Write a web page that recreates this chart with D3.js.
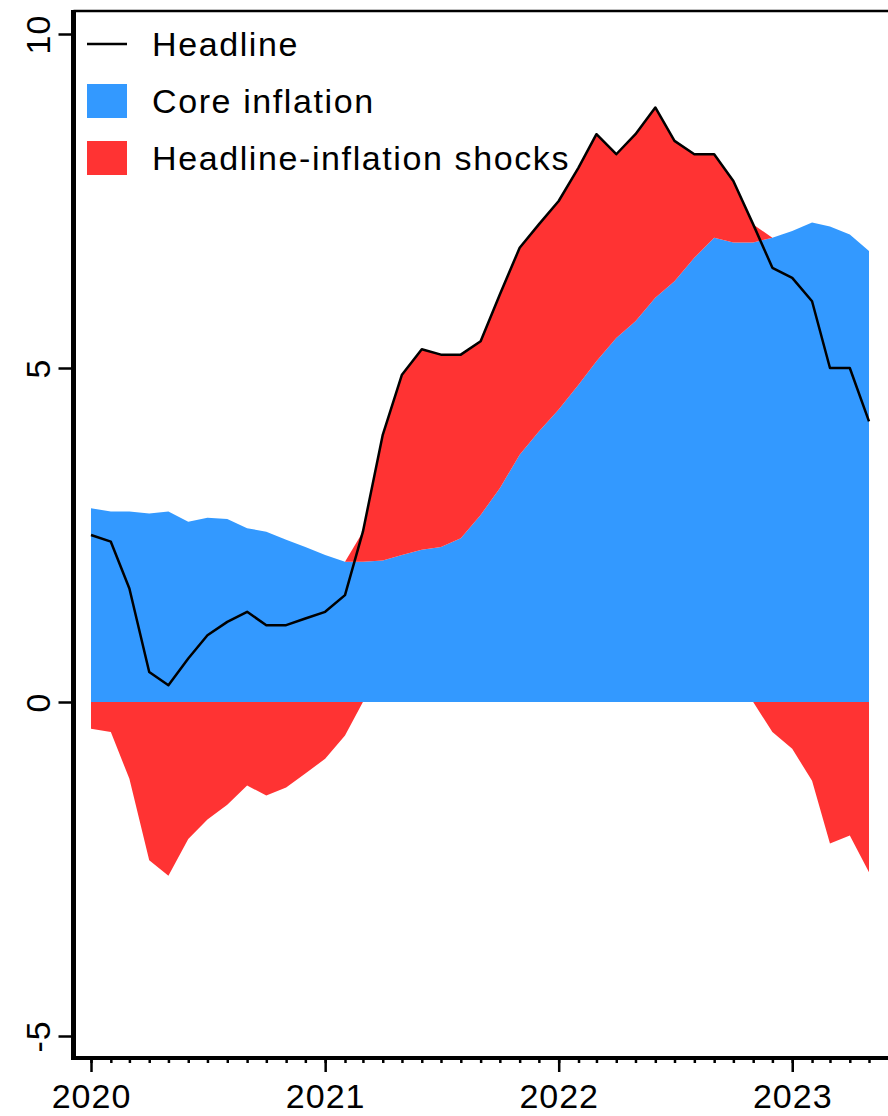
<!DOCTYPE html>
<html>
<head>
<meta charset="utf-8">
<script src="https://cdn.jsdelivr.net/npm/d3@7"></script>
<style>
  body { margin: 0; background: #fff; }
  svg { display: block; font-family: "Liberation Sans", Arial, sans-serif; }
</style>
</head>
<body>
<svg id="chart" width="888" height="1116"></svg>
<script>
/* data: monthly, Jan 2020 - May 2023 */
var startMonth = "2020-01";
var headline = [2.5, 2.4, 1.7, 0.45, 0.25, 0.65, 1.0, 1.2, 1.35, 1.15,
                1.15, 1.25, 1.35, 1.6, 2.55, 4.0, 4.9, 5.28, 5.2, 5.2,
                5.4, 6.1, 6.8, 7.15, 7.5, 8.0, 8.5, 8.2, 8.5, 8.9,
                8.4, 8.2, 8.2, 7.8, 7.15, 6.5, 6.35, 6.0, 5.0, 5.0,
                4.2];
var core = [2.9, 2.85, 2.85, 2.82, 2.85, 2.7, 2.76, 2.74, 2.6, 2.55,
            2.43, 2.32, 2.2, 2.1, 2.1, 2.12, 2.2, 2.28, 2.32, 2.45,
            2.8, 3.2, 3.7, 4.05, 4.38, 4.75, 5.1, 5.45, 5.7, 6.05,
            6.3, 6.65, 6.95, 6.88, 6.88, 6.95, 7.05, 7.18, 7.12, 7.0,
            6.75];
var yTicks = [-5, 0, 5, 10];
var xTickYears = ["2020", "2021", "2022", "2023"];
var legendLabels = ["Headline", "Core inflation", "Headline-inflation shocks"];

var blue = "#3399ff", red = "#ff3333";

var parseMonth = d3.timeParse("%Y-%m");
var t0 = parseMonth(startMonth);
var rows = headline.map(function(h, i) {
  var shock = h - core[i];
  return {
    date: d3.timeMonth.offset(t0, i),
    headline: h,
    core: core[i],
    pos: Math.max(shock, 0),
    neg: Math.min(shock, 0)
  };
});

var svg = d3.select("#chart");
var frameLeft = 73.5, frameTop = 11, frameBottom = 1058, frameRight = 900;

var x = d3.scaleTime()
    .domain([rows[0].date, rows[rows.length - 1].date])
    .range([91, 869]);
var y = d3.scaleLinear().domain([-5, 10]).range([1036, 34]);

// areas
var coreArea = d3.area()
    .x(function(d) { return x(d.date); })
    .y0(y(0))
    .y1(function(d) { return y(d.core); });

var shockUp = d3.area()
    .x(function(d) { return x(d.date); })
    .y0(function(d) { return y(d.core); })
    .y1(function(d) { return y(d.core + d.pos); });

var shockDown = d3.area()
    .x(function(d) { return x(d.date); })
    .y0(y(0))
    .y1(function(d) { return y(d.neg); });

svg.append("path").datum(rows).attr("d", coreArea).attr("fill", blue);
svg.append("path").datum(rows).attr("d", shockUp).attr("fill", red);
svg.append("path").datum(rows).attr("d", shockDown).attr("fill", red);

var line = d3.line()
    .x(function(d) { return x(d.date); })
    .y(function(d) { return y(d.headline); });

svg.append("path").datum(rows)
    .attr("d", line)
    .attr("fill", "none")
    .attr("stroke", "#000")
    .attr("stroke-width", 2.5)
    .attr("stroke-linejoin", "round");

// frame
svg.append("line")
    .attr("x1", frameLeft).attr("x2", frameRight)
    .attr("y1", frameTop).attr("y2", frameTop)
    .attr("stroke", "#000").attr("stroke-width", 2.5);

// y axis
var yAxis = d3.axisLeft(y).tickValues(yTicks).tickSize(13).tickPadding(0);
var gy = svg.append("g").attr("transform", "translate(" + (frameLeft - 2) + ",0)").call(yAxis);
gy.select(".domain").remove();
gy.selectAll(".tick line").attr("stroke", "#000").attr("stroke-width", 2.5);
gy.selectAll(".tick text").remove();
gy.selectAll(".tick").append("text")
    .attr("transform", "translate(-33,0) rotate(-90)")
    .attr("text-anchor", "middle")
    .attr("dy", "0.35em")
    .attr("fill", "#000")
    .attr("font-size", 34)
    .attr("letter-spacing", 1)
    .text(function(d) { return d; });

svg.append("line")
    .attr("x1", frameLeft).attr("x2", frameLeft)
    .attr("y1", frameTop - 1).attr("y2", frameBottom + 2)
    .attr("stroke", "#000").attr("stroke-width", 5);

// x axis: minor monthly ticks + yearly ticks
var minor = d3.axisBottom(x)
    .ticks(d3.timeMonth.every(1))
    .tickSize(5)
    .tickFormat("");
var gm = svg.append("g").attr("transform", "translate(0," + frameBottom + ")").call(minor);
gm.select(".domain").remove();
gm.selectAll(".tick line").attr("stroke", "#000").attr("stroke-width", 2.5);

var years = xTickYears.map(function(s) { return d3.timeParse("%Y")(s); });
var major = d3.axisBottom(x)
    .tickValues(years)
    .tickSize(14)
    .tickPadding(12)
    .tickFormat(d3.timeFormat("%Y"));
var gx = svg.append("g").attr("transform", "translate(0," + frameBottom + ")").call(major);
gx.select(".domain").remove();
gx.selectAll(".tick line").attr("stroke", "#000").attr("stroke-width", 2.5);
gx.selectAll(".tick text").attr("fill", "#000").attr("font-size", 34).attr("letter-spacing", 1);

svg.append("line")
    .attr("x1", frameLeft).attr("x2", frameRight)
    .attr("y1", frameBottom).attr("y2", frameBottom)
    .attr("stroke", "#000").attr("stroke-width", 4);

// legend
var legend = svg.append("g").attr("transform", "translate(87,44)");
var rowGap = 57;
legendLabels.forEach(function(label, i) {
  var g = legend.append("g").attr("transform", "translate(0," + (i * rowGap) + ")");
  if (i === 0) {
    g.append("line").attr("x1", 0).attr("x2", 40).attr("y1", 0).attr("y2", 0)
        .attr("stroke", "#000").attr("stroke-width", 2.5);
  } else {
    g.append("rect").attr("x", 0).attr("y", -17).attr("width", 40).attr("height", 34)
        .attr("fill", i === 1 ? blue : red);
  }
  g.append("text")
      .attr("x", 65).attr("y", 0).attr("dy", "0.35em")
      .attr("font-size", 34)
      .attr("letter-spacing", 1.6)
      .attr("fill", "#000")
      .text(label);
});
</script>
</body>
</html>
